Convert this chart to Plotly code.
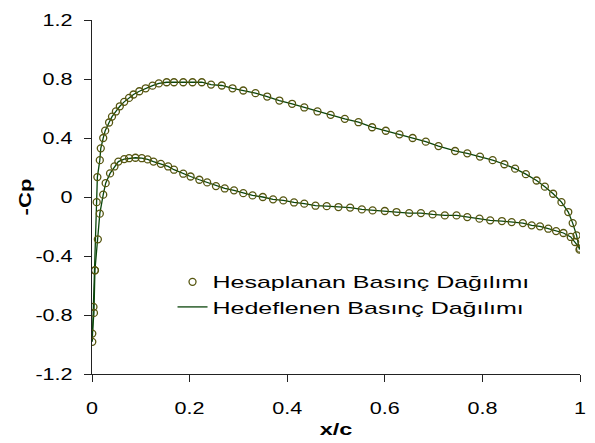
import plotly.graph_objects as go

# Upper surface (suction side): x/c and -Cp
upper_x = [0.0006, 0.003, 0.006, 0.0096, 0.011, 0.016, 0.018, 0.023, 0.027, 0.035, 0.041, 0.049,
           0.057, 0.066, 0.076, 0.085, 0.097, 0.11, 0.124, 0.137, 0.153, 0.168, 0.187, 0.206,
           0.225, 0.244, 0.266, 0.288, 0.31, 0.335, 0.359, 0.384, 0.41, 0.435, 0.462, 0.489,
           0.518, 0.546, 0.574, 0.602, 0.63, 0.657, 0.684, 0.71, 0.744, 0.769, 0.795, 0.821,
           0.845, 0.867, 0.889, 0.911, 0.928, 0.945, 0.962, 0.976, 0.985, 0.993, 0.999]
upper_cp = [-0.982, -0.745, -0.497, -0.035, 0.135, 0.25, 0.33, 0.40, 0.45, 0.505, 0.545, 0.58,
            0.615, 0.645, 0.672, 0.695, 0.717, 0.737, 0.755, 0.77, 0.778, 0.778, 0.778, 0.778,
            0.778, 0.762, 0.756, 0.737, 0.722, 0.704, 0.681, 0.654, 0.632, 0.607, 0.58, 0.557,
            0.53, 0.507, 0.473, 0.449, 0.425, 0.40, 0.375, 0.345, 0.312, 0.296, 0.274, 0.25,
            0.222, 0.192, 0.155, 0.112, 0.07, 0.022, -0.035, -0.102, -0.177, -0.26, -0.357]

# Lower surface (pressure side): x/c and -Cp
lower_x = [0.0006, 0.004, 0.006, 0.012, 0.016, 0.023, 0.028, 0.037, 0.046, 0.054, 0.066, 0.076,
           0.089, 0.102, 0.114, 0.126, 0.141, 0.156, 0.168, 0.187, 0.202, 0.22, 0.236, 0.254,
           0.272, 0.291, 0.31, 0.329, 0.35, 0.371, 0.392, 0.414, 0.435, 0.458, 0.481, 0.505,
           0.529, 0.553, 0.575, 0.6, 0.624, 0.65, 0.674, 0.698, 0.723, 0.747, 0.769, 0.794,
           0.816, 0.84, 0.86, 0.883, 0.901, 0.918, 0.935, 0.951, 0.966, 0.981, 0.99, 1.0]
lower_cp = [-0.926, -0.786, -0.497, -0.287, -0.113, 0.016, 0.094, 0.16, 0.207, 0.24, 0.257, 0.263,
            0.266, 0.263, 0.255, 0.24, 0.225, 0.207, 0.185, 0.158, 0.139, 0.117, 0.099, 0.074,
            0.058, 0.045, 0.026, 0.011, 0.0, -0.016, -0.023, -0.037, -0.045, -0.059, -0.062, -0.068,
            -0.072, -0.084, -0.091, -0.095, -0.102, -0.109, -0.109, -0.118, -0.125, -0.125, -0.136, -0.147,
            -0.158, -0.163, -0.17, -0.177, -0.192, -0.199, -0.215, -0.231, -0.244, -0.271, -0.305, -0.35]

x_ticks = [0, 0.2, 0.4, 0.6, 0.8, 1]
x_tick_labels = ["0", "0.2", "0.4", "0.6", "0.8", "1"]
y_ticks = [-1.2, -0.8, -0.4, 0, 0.4, 0.8, 1.2]
y_tick_labels = ["-1.2", "-0.8", "-0.4", "0", "0.4", "0.8", "1.2"]

marker_color = "#55550f"
line_color = "#0a450a"
font_family = "Liberation Sans, Arial, sans-serif"

fig = go.Figure()

# Target (line) traces
fig.add_trace(go.Scatter(x=upper_x, y=upper_cp, mode="lines",
                         line=dict(color=line_color, width=1.3),
                         name="Hedeflenen Basınç Dağılımı", legendrank=2))
fig.add_trace(go.Scatter(x=lower_x, y=lower_cp, mode="lines",
                         line=dict(color=line_color, width=1.3),
                         showlegend=False))
# Calculated (marker) traces
fig.add_trace(go.Scatter(x=upper_x, y=upper_cp, mode="markers",
                         marker=dict(symbol="circle-open", size=7,
                                     color=marker_color, line=dict(width=1.3, color=marker_color)),
                         name="Hesaplanan Basınç Dağılımı", legendrank=1))
fig.add_trace(go.Scatter(x=lower_x, y=lower_cp, mode="markers",
                         marker=dict(symbol="circle-open", size=7,
                                     color=marker_color, line=dict(width=1.3, color=marker_color)),
                         showlegend=False))

axis_common = dict(showgrid=False, zeroline=False, showline=True, linecolor="#222222",
                   linewidth=1, ticks="outside", ticklen=7, tickcolor="#222222",
                   automargin=False,
                   tickfont=dict(family=font_family, size=17, color="#000000"))

# The page body has an 8px default margin, so the figure is sized to fit inside it.
fig.update_layout(
    width=579, height=431,
    margin=dict(l=84, r=7, t=11.5, b=65.3, pad=0, autoexpand=False),
    paper_bgcolor="white", plot_bgcolor="white",
    font=dict(family=font_family, color="#000000"),
    showlegend=True,
    legend=dict(x=0.165, y=0.31, xanchor="left", yanchor="top",
                bgcolor="rgba(0,0,0,0)", font=dict(family=font_family, size=17),
                tracegroupgap=0, itemwidth=30),
    xaxis=dict(range=[0, 1], tickvals=x_ticks, ticktext=x_tick_labels,
               ticklabelstandoff=12,
               title=dict(text="<b>x/c</b>", font=dict(family=font_family, size=17), standoff=10),
               **axis_common),
    yaxis=dict(range=[-1.2, 1.2], tickvals=y_ticks, ticktext=y_tick_labels,
               ticklabelstandoff=8,
               title=dict(text="<b>-Cp</b>", font=dict(family=font_family, size=17), standoff=7),
               **axis_common),
)

# The reference renders its text noticeably wider than Arial; widen glyphs to match.
stretch_js = """
var gd = document.getElementById('{plot_id}');
function stretchText(){
  var specs = [
    ['text.legendtext', 1.47],
    ['g.xtick text', 1.27],
    ['g.ytick text', 1.27],
    ['text.xtitle', 1.38],
    ['text.ytitle', 1.3]
  ];
  specs.forEach(function(s){
    gd.querySelectorAll(s[0]).forEach(function(t){
      t.removeAttribute('textLength');
      t.removeAttribute('lengthAdjust');
      var w = t.getComputedTextLength();
      if (w > 0) {
        t.setAttribute('textLength', (w * s[1]).toFixed(1));
        t.setAttribute('lengthAdjust', 'spacingAndGlyphs');
      }
    });
  });
  gd.querySelectorAll('g.legend g.scrollbox, g.legend').forEach(function(el){
    el.removeAttribute('clip-path');
  });
}
stretchText();
gd.on('plotly_afterplot', stretchText);
"""

fig.write_html("out.html", post_script=stretch_js)
